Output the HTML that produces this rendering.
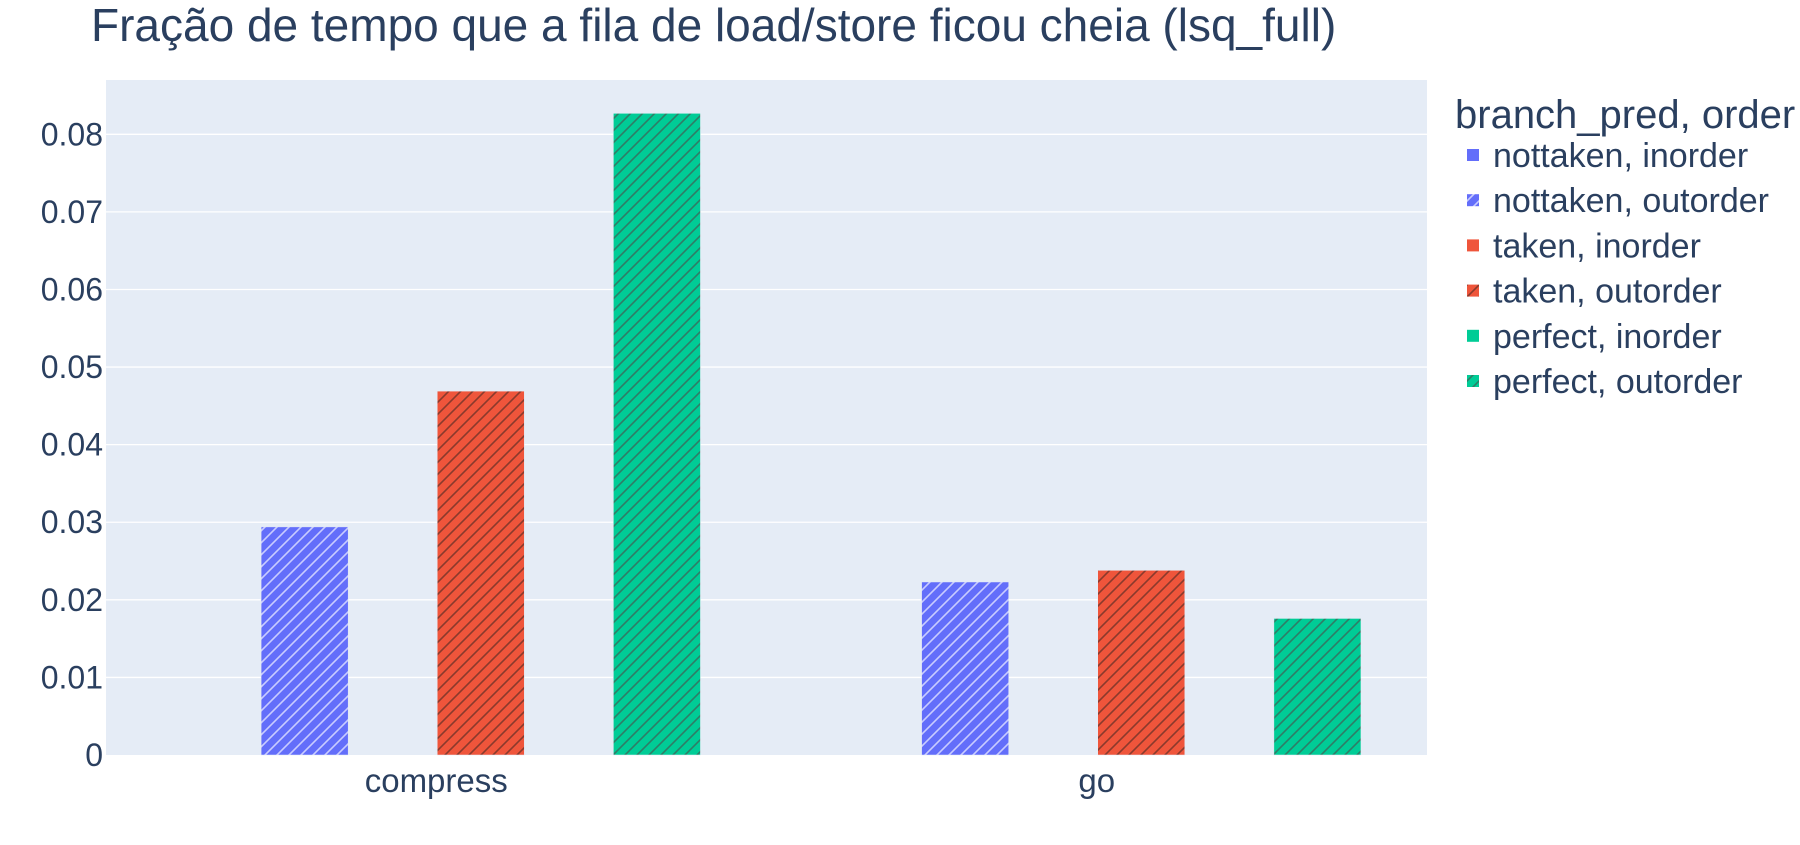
<!DOCTYPE html>
<html><head><meta charset="utf-8"><style>
body{margin:0;background:#fff;}
svg text{font-family:"Liberation Sans","DejaVu Sans",sans-serif;fill:#2a3f5f;}
</style></head><body>
<svg id="chart" width="1800" height="840" xmlns="http://www.w3.org/2000/svg">
<defs>
<pattern id="hb" patternUnits="userSpaceOnUse" width="12" height="12"><rect width="12" height="12" fill="#636efa"/><path d="M-3,3 L3,-3 M0,12 L12,0 M9,15 L15,9" stroke="#c9ccff" stroke-width="1.6"/></pattern>
<pattern id="hr" patternUnits="userSpaceOnUse" width="12" height="12"><rect width="12" height="12" fill="#ef553b"/><path d="M-3,3 L3,-3 M0,12 L12,0 M9,15 L15,9" stroke="#8a3a2c" stroke-width="1.6"/></pattern>
<pattern id="hg" patternUnits="userSpaceOnUse" width="12" height="12"><rect width="12" height="12" fill="#00cc96"/><path d="M-3,3 L3,-3 M0,12 L12,0 M9,15 L15,9" stroke="#2f7d66" stroke-width="1.6"/></pattern>
</defs>
<text x="91" y="41" font-size="46">Fração de tempo que a fila de load/store ficou cheia (lsq_full)</text>
<rect x="106" y="80" width="1321" height="675" fill="#e5ecf6"/>
<g id="grid"></g><g id="bars"></g><g id="axes"></g><g id="legend"></g>
</svg>
<script>
const categories=["compress","go"];
const seriesNames=["nottaken, inorder","nottaken, outorder","taken, inorder","taken, outorder","perfect, inorder","perfect, outorder"];
const nottakenIn=[0,0];
const nottakenOut=[0.0294,0.0223];
const takenIn=[0,0];
const takenOut=[0.0469,0.0238];
const perfectIn=[0,0];
const perfectOut=[0.0827,0.0176];
const yTicks=[0,0.01,0.02,0.03,0.04,0.05,0.06,0.07,0.08];
const yTickLabels=["0","0.01","0.02","0.03","0.04","0.05","0.06","0.07","0.08"];

const NS="http://www.w3.org/2000/svg";
const L=106,R=1427,T=80,B=755,Y0=0,Y1=0.087;
const yScale=v=>B-(v-Y0)/(Y1-Y0)*(B-T);
const catW=(R-L)/categories.length;
const xCenter=i=>L+catW*(i+0.5);
const slotW=catW*0.8/6;
function mk(tag,attrs,parent){const e=document.createElementNS(NS,tag);for(const k in attrs)e.setAttribute(k,attrs[k]);parent.appendChild(e);return e;}
const grid=document.getElementById('grid'),axes=document.getElementById('axes'),bars=document.getElementById('bars'),legend=document.getElementById('legend');
yTicks.forEach((t,i)=>{
  if(t>0){const g=mk('line',{x1:L,x2:R,y1:yScale(t),y2:yScale(t),stroke:'#fff','stroke-width':1.3},grid);
  
  }
  const tx=mk('text',{x:L-3,y:yScale(t)+11,'font-size':32,'text-anchor':'end'},axes);tx.textContent=yTickLabels[i];
  
  
});
categories.forEach((c,i)=>{
  const tx=mk('text',{x:xCenter(i),y:792,'font-size':33,'text-anchor':'middle'},axes);tx.textContent=c;
  
  
});
const series=[nottakenIn,nottakenOut,takenIn,takenOut,perfectIn,perfectOut];
const fills=['#636efa','url(#hb)','#ef553b','url(#hr)','#00cc96','url(#hg)'];
series.forEach((s,k)=>{
  s.forEach((v,i)=>{
    const x=xCenter(i)-catW*0.4+k*slotW+1;
    const r=mk('rect',{x:x,y:yScale(v),width:slotW-1,height:Math.max(0,B-yScale(v)),fill:fills[k],stroke:'#e5ecf6','stroke-width':0.5},bars);
    
    
  });
});
const lt=mk('text',{x:1455,y:128,'font-size':40},legend);lt.textContent='branch_pred, order';


seriesNames.forEach((n,k)=>{
  const y=155+k*45.2;
  const g=mk('g',{},legend);
  
  
  mk('rect',{x:1467,y:y-6,width:12,height:12,fill:fills[k]},g);
  const t=mk('text',{x:1493,y:y+12,'font-size':34},g);t.textContent=n;
});
</script>
</body></html>
